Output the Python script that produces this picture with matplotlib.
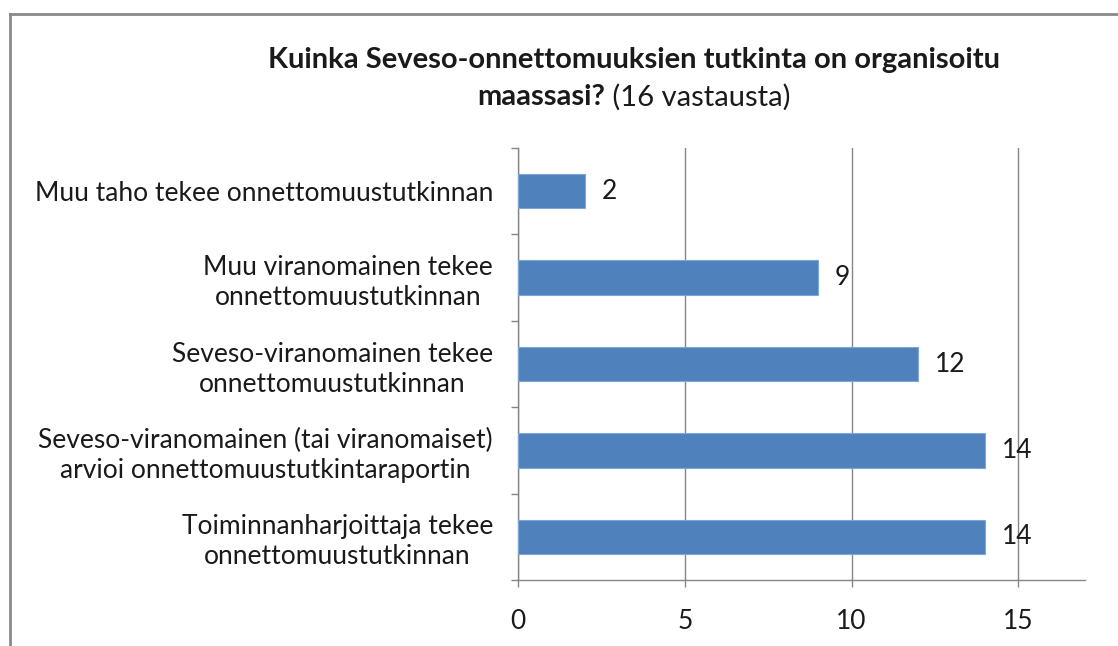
import matplotlib
matplotlib.use("Agg")
import matplotlib.pyplot as plt
from matplotlib.lines import Line2D

categories = [
    "Toiminnanharjoittaja tekee\nonnettomuustutkinnan",
    "Seveso-viranomainen (tai viranomaiset)\narvioi onnettomuustutkintaraportin",
    "Seveso-viranomainen tekee\nonnettomuustutkinnan",
    "Muu viranomainen tekee\nonnettomuustutkinnan",
    "Muu taho tekee onnettomuustutkinnan",
]
values = [14, 14, 12, 9, 2]
xticks = [0, 5, 10, 15]

FONT = "Lato"
plt.rcParams["font.family"] = [FONT, "DejaVu Sans"]
FS = 19
TFS = 21

W, H = 1118, 646
fig = plt.figure(figsize=(W / 100, H / 100), dpi=100)
fig.patch.set_facecolor("white")

ax = fig.add_axes([518 / W, 1 - 580 / H, (1085 - 518) / W, (580 - 148) / H])
ypos = list(range(len(categories)))
ax.barh(ypos, values, height=0.4, color="#4F81BD", edgecolor="#7EA6D6",
        linewidth=0.8, zorder=3)
ax.set_xlim(0, 17)
ax.set_ylim(-0.5, len(categories) - 0.5)

ax.set_xticks(xticks)
ax.set_xticklabels([str(t) for t in xticks], fontsize=FS, color="#1a1a1a")
ax.set_yticks([i - 0.5 for i in range(len(categories) + 1)], minor=False)
ax.set_yticklabels([])
ax.set_yticks(ypos, minor=True)
ax.set_yticklabels(categories, minor=True, fontsize=FS, color="#1a1a1a",
                   multialignment="center", linespacing=1.25)
ax.tick_params(axis="y", which="minor", length=0, pad=18)
ax.tick_params(axis="y", which="major", length=5, color="#868686", width=1)
ax.tick_params(axis="x", length=5, color="#868686", width=1, pad=16)

ax.grid(axis="x", color="#868686", linewidth=1, zorder=0)
for s in ["top", "right"]:
    ax.spines[s].set_visible(False)
for s in ["left", "bottom"]:
    ax.spines[s].set_color("#868686")
    ax.spines[s].set_linewidth(1)

for y, v in zip(ypos, values):
    ax.annotate(str(v), (v, y), xytext=(12, 0), textcoords="offset points",
                va="center", ha="left", fontsize=FS, color="#1a1a1a", zorder=4)

# Title
fig.text(634 / W, 1 - 60 / H, "Kuinka Seveso-onnettomuuksien tutkinta on organisoitu",
         ha="center", va="center", fontsize=TFS, fontweight="bold", color="#1a1a1a")
t1 = fig.text(0, 1 - 97 / H, "maassasi?", ha="left", va="center", fontsize=TFS,
              fontweight="bold", color="#1a1a1a")
t2 = fig.text(0, 1 - 97 / H, " (16 vastausta)", ha="left", va="center", fontsize=TFS,
              color="#1a1a1a")
fig.canvas.draw()
r = fig.canvas.get_renderer()
w1 = t1.get_window_extent(r).width
w2 = t2.get_window_extent(r).width
x0 = 634 - (w1 + w2) / 2
t1.set_x(x0 / W)
t2.set_x((x0 + w1) / W)

# Border
fig.add_artist(Line2D([10 / W, 10 / W], [1 - 14 / H, 0], transform=fig.transFigure,
                      color="#8a8a8a", linewidth=2))
fig.add_artist(Line2D([10 / W, 1], [1 - 14 / H, 1 - 14 / H], transform=fig.transFigure,
                      color="#8a8a8a", linewidth=2))

fig.savefig("out.png", dpi=100)
